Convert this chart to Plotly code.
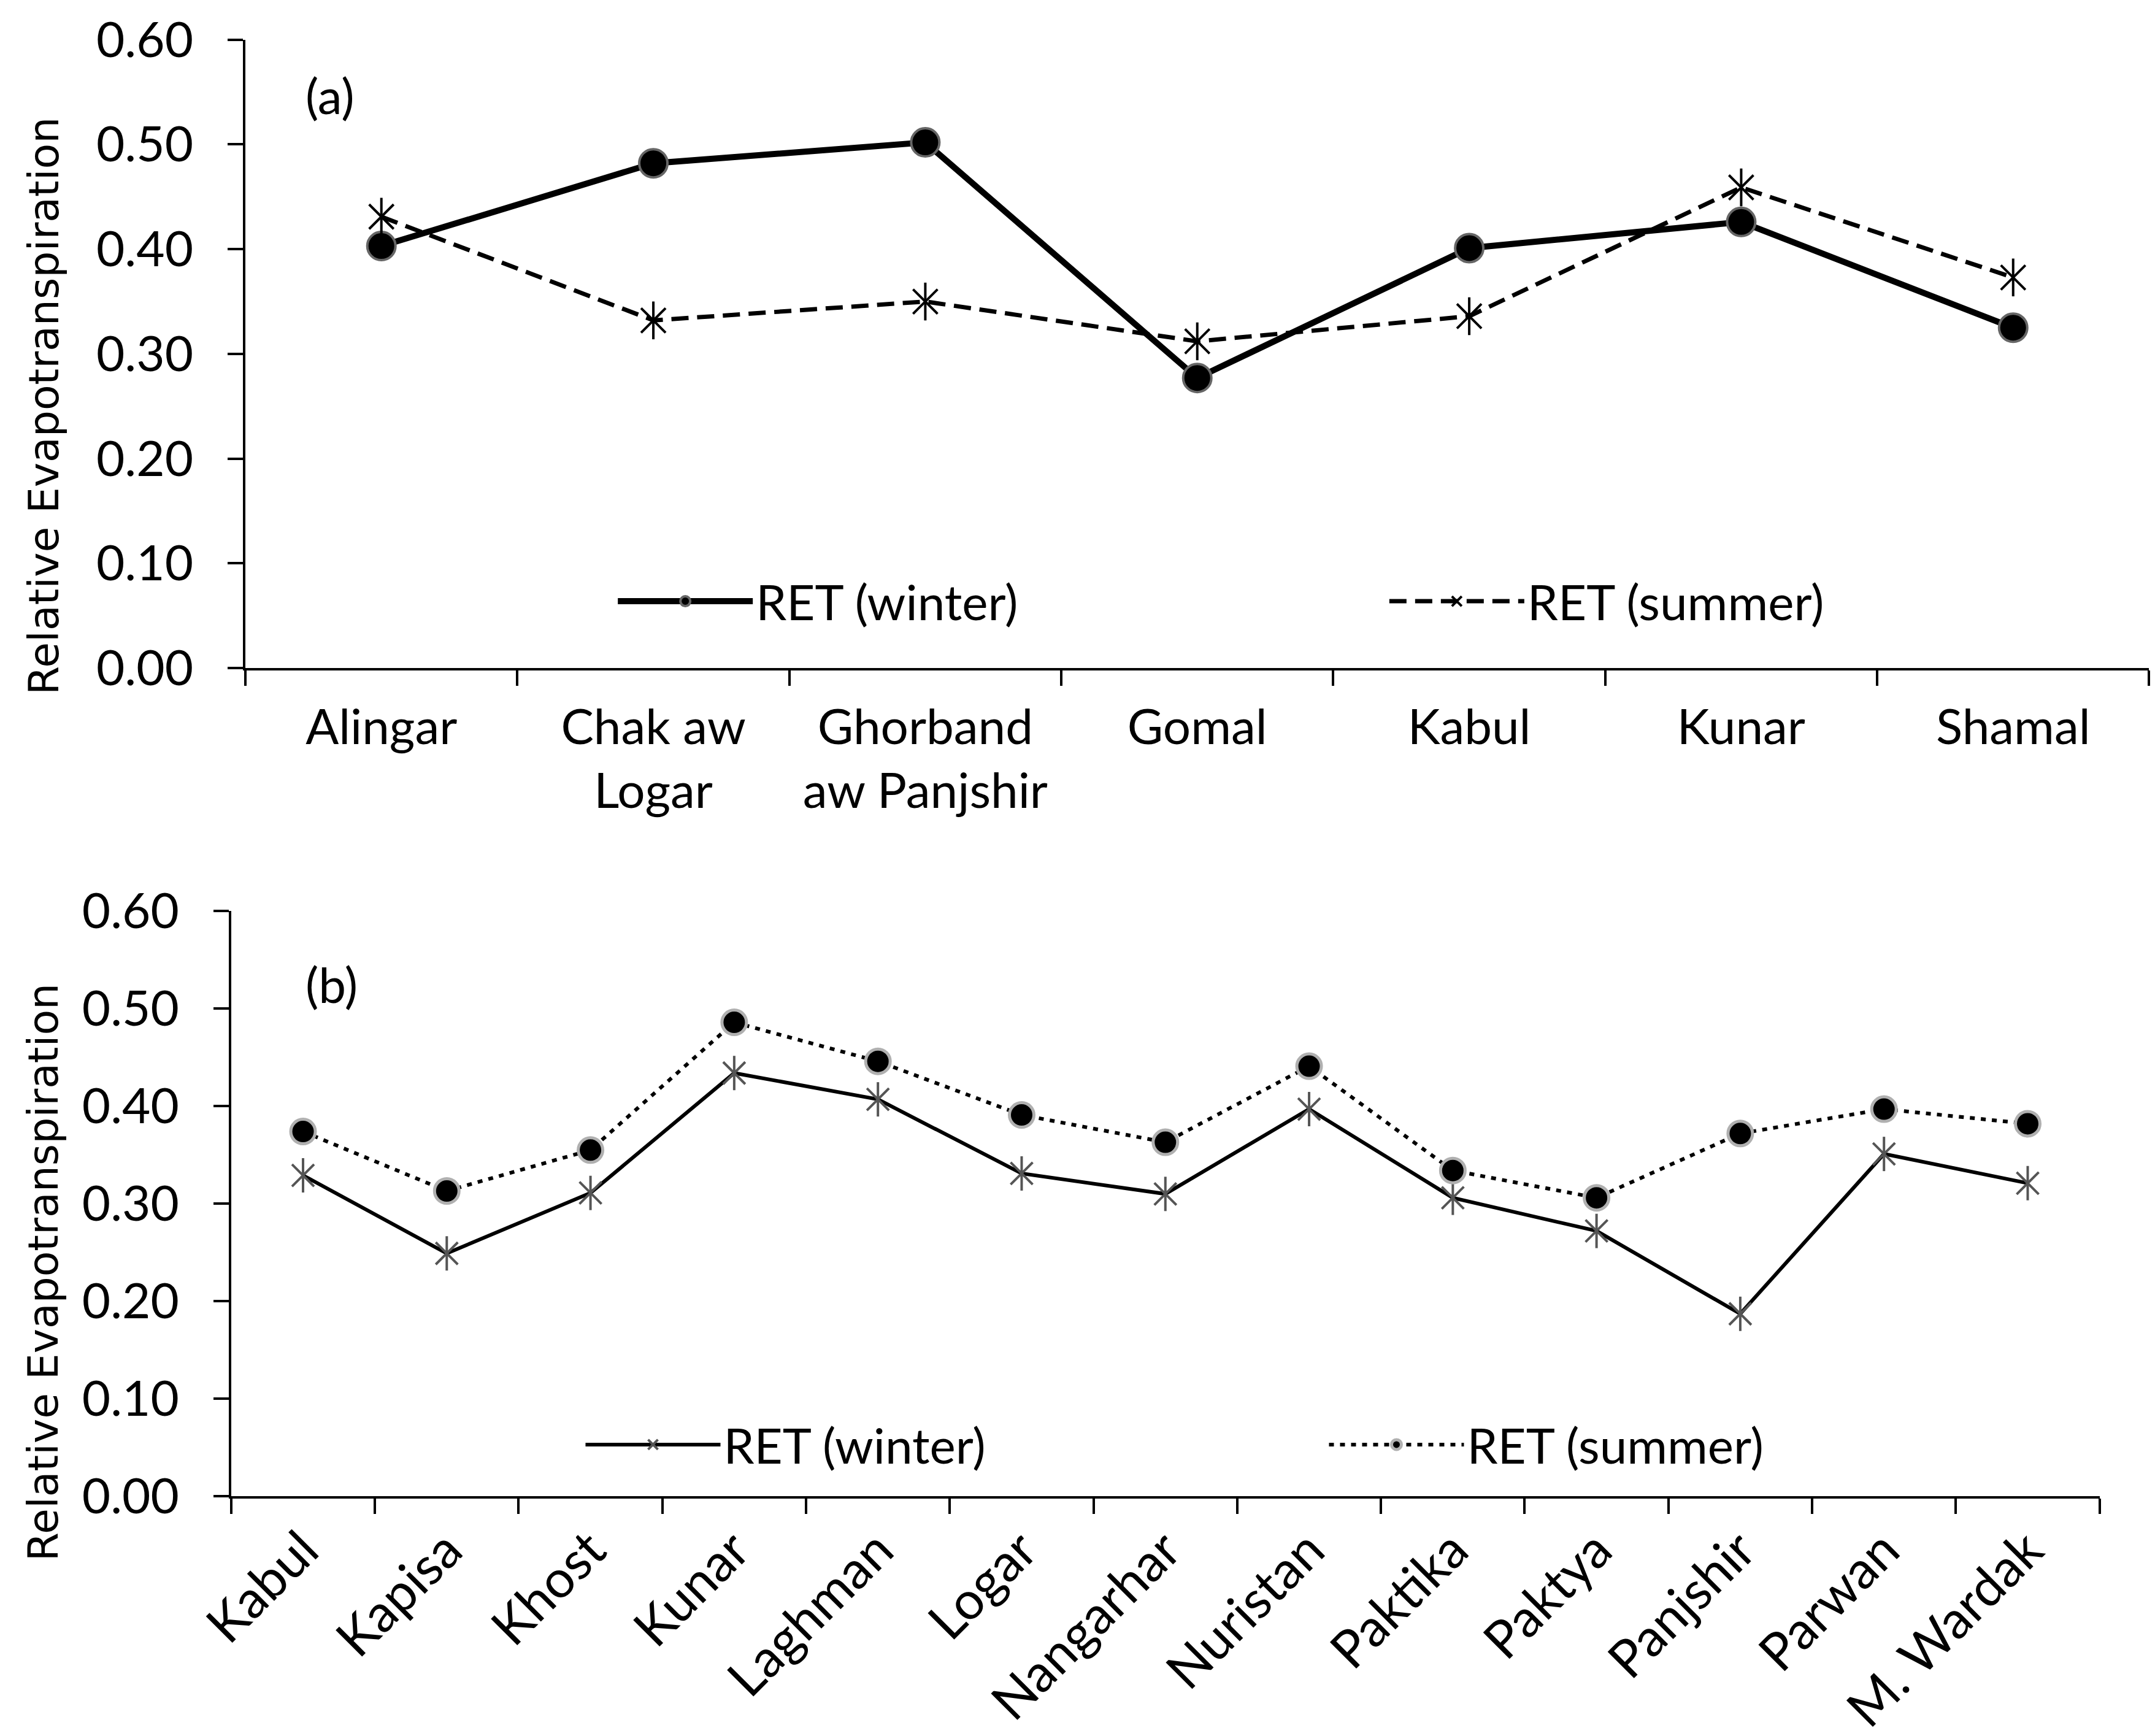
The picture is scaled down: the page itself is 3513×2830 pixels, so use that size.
import plotly.graph_objects as go

# (a) basins
basins = ["Alingar", "Chak aw<br>Logar", "Ghorband<br>aw Panjshir", "Gomal", "Kabul", "Kunar", "Shamal"]
ret_winter_a = [0.403, 0.482, 0.502, 0.277, 0.401, 0.426, 0.325]
ret_summer_a = [0.431, 0.332, 0.350, 0.312, 0.336, 0.459, 0.373]

# (b) provinces
provinces = ["Kabul", "Kapisa", "Khost", "Kunar", "Laghman", "Logar", "Nangarhar",
             "Nuristan", "Paktika", "Paktya", "Panjshir", "Parwan", "M. Wardak"]
ret_winter_b = [0.329, 0.249, 0.311, 0.434, 0.407, 0.331, 0.310, 0.397, 0.306, 0.272, 0.187, 0.351, 0.321]
ret_summer_b = [0.374, 0.313, 0.355, 0.486, 0.446, 0.391, 0.363, 0.441, 0.334, 0.306, 0.372, 0.397, 0.382]

y_ticks = [0.0, 0.1, 0.2, 0.3, 0.4, 0.5, 0.6]
y_range = [0, 0.6001]

W, H = 3513, 2830
TICK_FONT = dict(family="Lato, Noto Sans, sans-serif", size=80, color="black")
ROT_FONT = dict(family="Lato, Noto Sans, sans-serif", size=85, color="black")
TITLE_FONT = dict(family="DejaVu Sans, sans-serif", size=68, color="black")
TL = 25  # half length of the crossing ticks

fig = go.Figure()

# panel (a)
fig.add_trace(go.Scatter(
    x=basins, y=ret_winter_a, mode="lines+markers", name="RET (winter)",
    line=dict(color="black", width=10),
    marker=dict(symbol="circle", size=46, color="black", line=dict(color="#666666", width=4)),
    xaxis="x", yaxis="y", legend="legend",
))
fig.add_trace(go.Scatter(
    x=basins, y=ret_summer_a, mode="lines+markers", name="RET (summer)",
    line=dict(color="black", width=7, dash="28px,14px"),
    marker=dict(symbol="x-thin-open", size=40, color="black", line=dict(color="black", width=4)),
    xaxis="x", yaxis="y", legend="legend2",
))
fig.add_trace(go.Scatter(
    x=basins, y=ret_summer_a, mode="markers", showlegend=False, hoverinfo="skip",
    marker=dict(symbol="line-ns-open", size=44, color="black", line=dict(color="black", width=4)),
    xaxis="x", yaxis="y",
))

# panel (b)
fig.add_trace(go.Scatter(
    x=provinces, y=ret_winter_b, mode="lines+markers", name="RET (winter)",
    line=dict(color="black", width=6),
    marker=dict(symbol="x-thin-open", size=36, color="#555555", line=dict(color="#555555", width=4)),
    xaxis="x2", yaxis="y2", legend="legend3",
))
fig.add_trace(go.Scatter(
    x=provinces, y=ret_winter_b, mode="markers", showlegend=False, hoverinfo="skip",
    marker=dict(symbol="line-ns-open", size=40, color="#555555", line=dict(color="#555555", width=4)),
    xaxis="x2", yaxis="y2",
))
fig.add_trace(go.Scatter(
    x=provinces, y=ret_summer_b, mode="lines+markers", name="RET (summer)",
    line=dict(color="black", width=6, dash="8px,10px"),
    marker=dict(symbol="circle", size=40, color="black", line=dict(color="#b0b0b0", width=5)),
    xaxis="x2", yaxis="y2", legend="legend4",
))

axis_common = dict(showgrid=False, zeroline=False, showline=True, linecolor="black",
                   linewidth=4, ticks="outside", ticklen=TL, tickwidth=4, tickcolor="black",
                   automargin=False, ticklabeloverflow="allow")
inner_ticks = dict(showticklabels=False, showgrid=False, zeroline=False, ticks="inside",
                   ticklen=TL, tickwidth=4, tickcolor="black")

fig.update_layout(
    width=W, height=H,
    paper_bgcolor="white", plot_bgcolor="white",
    margin=dict(l=0, r=0, t=0, b=0),
    xaxis=dict(domain=[0.1116, 0.995], anchor="y", type="category", categoryarray=basins,
               range=[-0.5, len(basins) - 0.5], tickson="boundaries", tickangle=0,
               ticklabelstandoff=24, tickfont=TICK_FONT, **axis_common),
    yaxis=dict(domain=[0.618, 0.980], anchor="x", range=y_range, tickvals=y_ticks,
               tickformat=".2f", ticklabelstandoff=40, tickfont=TICK_FONT, **axis_common),
    xaxis2=dict(domain=[0.105, 0.972], anchor="y2", type="category", categoryarray=provinces,
                range=[-0.5, len(provinces) - 0.5], tickson="boundaries", tickangle=-45,
                ticklabelstandoff=0, tickfont=ROT_FONT, **axis_common),
    yaxis2=dict(domain=[0.141, 0.478], anchor="x2", range=y_range, tickvals=y_ticks,
                tickformat=".2f", ticklabelstandoff=40, tickfont=TICK_FONT, **axis_common),
    # inner halves of the crossing ticks
    xaxis3=dict(overlaying="x", anchor="y", range=[-0.5, len(basins) - 0.5], tick0=-0.5, dtick=1,
                **inner_ticks),
    xaxis4=dict(overlaying="x2", anchor="y2", range=[-0.5, len(provinces) - 0.5], tick0=-0.5,
                dtick=1, **inner_ticks),
    yaxis3=dict(overlaying="y", anchor="x", range=y_range, tickvals=y_ticks, **inner_ticks),
    yaxis4=dict(overlaying="y2", anchor="x2", range=y_range, tickvals=y_ticks, **inner_ticks),
    showlegend=True,
)

leg = dict(font=TICK_FONT, bgcolor="rgba(0,0,0,0)", xanchor="left", yanchor="middle",
           orientation="h", itemwidth=220)
fig.update_layout(
    legend=dict(x=0.283, y=0.6565, **leg),
    legend2=dict(x=0.641, y=0.6565, **leg),
    legend3=dict(x=0.268, y=0.1707, **leg),
    legend4=dict(x=0.613, y=0.1707, **leg),
)

fig.add_annotation(text="(a)", xref="paper", yref="paper", x=0.139, y=0.948,
                   xanchor="left", yanchor="middle", showarrow=False, font=TICK_FONT)
fig.add_annotation(text="(b)", xref="paper", yref="paper", x=0.139, y=0.436,
                   xanchor="left", yanchor="middle", showarrow=False, font=TICK_FONT)
fig.add_annotation(text="Relative Evapotranspiration", xref="paper", yref="paper",
                   x=0.018, y=0.769, xanchor="center", yanchor="middle", textangle=-90,
                   showarrow=False, font=TITLE_FONT)
fig.add_annotation(text="Relative Evapotranspiration", xref="paper", yref="paper",
                   x=0.018, y=0.270, xanchor="center", yanchor="middle", textangle=-90,
                   showarrow=False, font=TITLE_FONT)

fig.write_html("out.html")
